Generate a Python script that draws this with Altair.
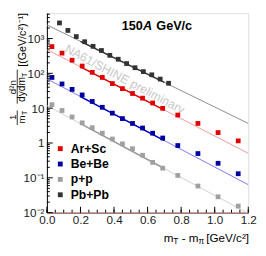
import altair as alt
import pandas as pd

# ---------------- data ----------------
series = ["Ar+Sc", "Be+Be", "p+p", "Pb+Pb"]
marker_colors = ["#e00000", "#0000a0", "#a0a0a0", "#333333"]
fit_dark_colors = ["#e00000", "#0000c8", "#9a9a9a", "#333333"]
fit_light_colors = ["#f39a9a", "#7b7bf0", "#d0d0d0", "#8c8c8c"]

x_light = [0.03, 0.09, 0.15, 0.21, 0.27, 0.33, 0.39, 0.45, 0.51, 0.57, 0.63, 0.69,
           0.78, 0.90, 1.02, 1.14]
arsc = [586, 381, 238, 162, 107, 76.3, 50.9, 36.4, 26.4, 19.4, 14.1, 9.9,
        6.34, 3.64, 1.99, 1.15]
bebe = [76.3, 49.6, 34.6, 24.0, 15.6, 10.6, 7.2, 5.02, 3.64, 2.69, 1.91, 1.39,
        0.845, 0.497, 0.261, 0.131]
pp = [12.6, 8.57, 5.57, 3.79, 2.75, 1.91, 1.30, 0.944, 0.684, 0.445, 0.278, 0.189,
      0.117, 0.058, 0.0285, 0.0154]
x_pbpb = [0.075, 0.125, 0.175, 0.225, 0.275, 0.325, 0.375, 0.425, 0.475, 0.525,
          0.575, 0.625, 0.675, 0.725]
pbpb = [2800, 1706, 1137, 809, 598, 453, 329, 254, 191, 145, 112, 90.8, 68.4, 51.9]

# exponential fits: value at x=0 and at x=1.2, fit range
fit_start = [483, 69.3, 11.8, 2460]
fit_end = [0.506, 0.0634, 0.0095, 3.64]
fit_x0, fit_x1 = 0.0, 1.2
fit_lo, fit_hi = 0.2, 0.7

x_major = [0.0, 0.2, 0.4, 0.6, 0.8, 1.0, 1.2]
x_minor = [round(0.05 * i, 2) for i in range(25)]
y_major = [0.01, 0.1, 1, 10, 100, 1000]
y_minor = [k * 10.0 ** e for e in range(-2, 4) for k in range(2, 10) if k * 10.0 ** e < 5300]

title_parts = ["150", "A", "GeV/c"]
watermark = "NA61/SHINE preliminary"
xtitle_parts = ["m", "T", "- m", "\u03c0", "[GeV/c\u00b2]"]
ytitle_parts = ["1", "m", "T", "d\u00b2n", "dydm", "T", "[(GeV/c\u00b2)\u207b\u00b9]"]

FONT = "Liberation Sans"

# ---------------- tables ----------------
pts = []
for s, xs_, vs_ in [("Ar+Sc", x_light, arsc), ("Be+Be", x_light, bebe),
                    ("p+p", x_light, pp), ("Pb+Pb", x_pbpb, pbpb)]:
    for xv, vv in zip(xs_, vs_):
        pts.append({"s": s, "x": xv, "v": vv})
df_pts = pd.DataFrame(pts)


def fitval(i, xv):
    a, b = fit_start[i], fit_end[i]
    t = (xv - fit_x0) / (fit_x1 - fit_x0)
    return a * (b / a) ** t


light_rows, dark_rows = [], []
for i, s in enumerate(series):
    for xv in (fit_x0, fit_x1):
        light_rows.append({"s": s, "x": xv, "v": fitval(i, xv), "c": fit_light_colors[i]})
    for xv in (fit_lo, fit_hi):
        dark_rows.append({"s": s, "x": xv, "v": fitval(i, xv), "c": fit_dark_colors[i]})
df_light = pd.DataFrame(light_rows)
df_dark = pd.DataFrame(dark_rows)

xs = alt.Scale(domain=[0, 1.2], nice=False, zero=False)
ys = alt.Scale(type="log", domain=[0.01, 5330], nice=False)

ax_x = alt.Axis(values=x_major, format=".1f", ticks=False, tickSize=0, grid=False,
                domainColor="#7a2e2e", labelFont=FONT, labelFontSize=12,
                labelColor="#222222", labelPadding=2, labelOverlap=False,
                labelFlush=False, title=None)
ax_y = alt.Axis(values=y_major, ticks=False, tickSize=0, grid=False,
                domainColor="black", labelFont=FONT, labelFontSize=12,
                labelColor="#222222", labelPadding=3, labelOverlap=False,
                labelFlush=False, title=None,
                labelExpr="datum.value > 500 ? '10\u00b3' : datum.value > 50 ? '10\u00b2' : "
                          "datum.value > 5 ? '10' : datum.value > 0.5 ? '1' : "
                          "datum.value > 0.05 ? '10\u207b\u00b9' : '10\u207b\u00b2'")

X = alt.X("x:Q", scale=xs, axis=ax_x)
Y = alt.Y("v:Q", scale=ys, axis=ax_y)


def txt(s, x, y, size, weight="normal", style="normal", angle=0, align="left",
        baseline="alphabetic", color="black"):
    return alt.Chart(pd.DataFrame({"t": [s]})).mark_text(
        align=align, baseline=baseline, fontSize=size, fontWeight=weight,
        fontStyle=style, angle=angle, font=FONT, color=color
    ).encode(x=alt.value(x), y=alt.value(y), text="t:N")


def vbar(x, y1, y2):
    return alt.Chart(pd.DataFrame({"a": [0]})).mark_rule(color="black", strokeWidth=0.8).encode(
        x=alt.value(x), y=alt.value(y1), y2=alt.value(y2))


wm = txt(watermark, 80, 68, 12.5, angle=28, align="center", baseline="middle", color="#c8c8c8")

light = alt.Chart(df_light).mark_line(strokeWidth=1, clip=True).encode(
    x=X, y=Y, detail="s:N", color=alt.Color("c:N", scale=None))
dark = alt.Chart(df_dark).mark_line(strokeWidth=1.5, clip=True).encode(
    x=X, y=Y, detail="s:N", color=alt.Color("c:N", scale=None))

points = alt.Chart(df_pts).mark_square(size=24, opacity=1).encode(
    x=X, y=Y,
    color=alt.Color("s:N", scale=alt.Scale(domain=series, range=marker_colors),
                    legend=alt.Legend(orient="none", legendX=7.5, legendY=133, title=None,
                                      symbolType="square", symbolSize=25,
                                      labelFont=FONT, labelFontSize=12.5,
                                      labelFontWeight="bold", labelColor="black",
                                      rowPadding=2.8, labelOffset=4.5, padding=0,
                                      symbolStrokeWidth=0)))

ytick_major = alt.Chart(pd.DataFrame({"v": y_major})).mark_rule(color="black").encode(
    x=alt.value(0), x2=alt.value(6), y=Y)
ytick_minor = alt.Chart(pd.DataFrame({"v": y_minor})).mark_rule(color="black").encode(
    x=alt.value(0), x2=alt.value(3), y=Y)
xtick_major = alt.Chart(pd.DataFrame({"x": x_major})).mark_rule(color="black").encode(
    y=alt.value(205), y2=alt.value(199), x=X)
xtick_minor = alt.Chart(pd.DataFrame({"x": x_minor})).mark_rule(color="black").encode(
    y=alt.value(205), y2=alt.value(202), x=X)

# title 150A GeV/c
t1 = txt(title_parts[0], 77, 17, 13, weight="bold")
t2 = txt(title_parts[1], 98.7, 17, 13, weight="bold", style="italic")
t3 = txt(title_parts[2], 112.5, 17, 13, weight="bold")

# x-axis title
xb = 235
xt = [
    txt(xtitle_parts[0], 120, xb, 12),
    txt(xtitle_parts[1], 130, xb + 2.5, 8.5),
    txt(xtitle_parts[2], 138.5, xb, 12),
    txt(xtitle_parts[3], 155.8, xb + 2.5, 8.5),
    txt(xtitle_parts[4], 163.8, xb, 12),
]

# y-axis title (rotated)
yt = [
    txt(ytitle_parts[0], -32, 107, 10, angle=270, align="center"),
    vbar(-30.5, 100, 115),
    txt(ytitle_parts[1], -22.5, 109.2, 10, angle=270, align="center"),
    txt(ytitle_parts[2], -20, 102.6, 7, angle=270, align="center"),
    txt(ytitle_parts[3], -32, 76, 10, angle=270, align="center"),
    vbar(-30.5, 58, 93),
    txt(ytitle_parts[4], -22.5, 78.5, 10.5, angle=270, align="center"),
    txt(ytitle_parts[5], -20, 63.5, 7, angle=270, align="center"),
    txt(ytitle_parts[6], -22, 27.4, 11, angle=270, align="center"),
]

chart = alt.layer(
    wm, light, dark, points, ytick_major, ytick_minor, xtick_major, xtick_minor,
    t1, t2, t3, *xt, *yt
).resolve_scale(color="independent").properties(
    width=207, height=205,
    autosize=alt.AutoSizeParams(type="none"),
    padding={"left": 40, "top": 2, "right": 10, "bottom": 33},
).configure_view(stroke="#7a2e2e", strokeWidth=1).configure(background="white")

chart.save("out.html", embed_options={"renderer": "svg", "actions": False})
